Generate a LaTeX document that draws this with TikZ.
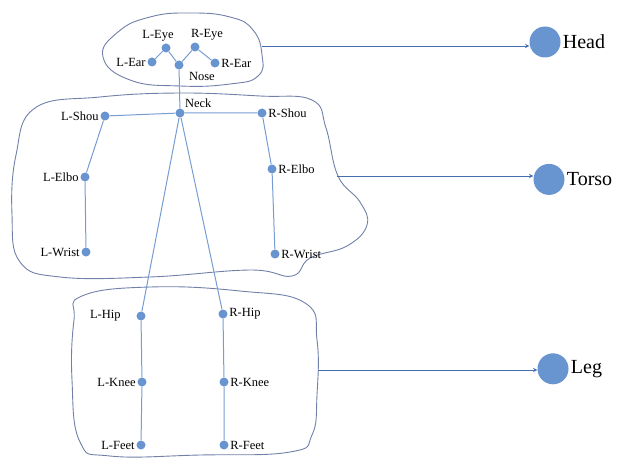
\documentclass[tikz,border=0pt]{standalone}
\usepackage{fontspec}
\setmainfont{Liberation Serif}
\usepackage{tikz}
\usepackage{xcolor}
\usetikzlibrary{arrows, positioning}
\definecolor{jointblue}{RGB}{104,148,208}
\definecolor{bonelue}{RGB}{120,156,210}
\definecolor{blobgrey}{RGB}{112,128,168}
\definecolor{arrowblue}{RGB}{70,110,175}
\tikzstyle{joint} = [circle, minimum size=9pt, inner sep=0pt, fill=jointblue, draw=none, label distance=0pt]
\tikzstyle{part} = [circle, minimum size=31pt, inner sep=0pt, fill=jointblue, draw=none, label distance=4pt]
\tikzstyle{partlabel} = [font=\fontsize{20}{20}\selectfont, inner sep=2pt]
\tikzstyle{bone} = [draw=bonelue, line width=1pt]
\tikzstyle{blob} = [draw=blobgrey, line width=0.9pt]
\tikzstyle{arrow} = [draw=arrowblue, line width=0.9pt, ->, >=stealth]

\begin{document}
\begin{tikzpicture}[x=1pt, y=-1pt, every label/.style={font=\fontsize{12.5}{12.5}\selectfont, inner sep=1.5pt}]
        \useasboundingbox (0,0) rectangle (617,457);

        % body part outlines
        \draw [blob] plot [smooth cycle, tension=0.8] coordinates {(103,57) (118,32) (150,17) (190,13) (230,17) (253,30) (262,55) (258,76) (230,84) (180,86) (130,80)};
        \draw [blob] plot [smooth cycle, tension=0.7] coordinates {(35,108) (100,97) (180,93) (260,96) (312,100) (326,128) (338,176) (360,202) (367,225) (347,246) (310,258) (292,276) (250,270) (150,277) (60,277) (20,262) (12,215) (16,155)};
        \draw [blob] plot [smooth cycle, tension=0.75] coordinates {(82,296) (150,287) (240,291) (305,303) (317,340) (317,395) (312,435) (290,452) (200,455) (110,456) (80,442) (72,380) (74,320)};

        % head
        \node (leye) [joint, label={[xshift=-8pt]above:L-Eye}] at (166,48) {};
        \node (reye) [joint, label={[xshift=12pt]above:R-Eye}] at (195,47) {};
        \node (lear) [joint, label=left:L-Ear] at (152,62) {};
        \node (nose) [joint, label={[xshift=5pt, yshift=-2pt]below right:Nose}] at (179,65) {};
        \node (rear) [joint, label=right:R-Ear] at (215,63) {};

        % torso
        \node (neck) [joint, label={above right:Neck}] at (180,113) {};
        \node (lshou) [joint, label=left:L-Shou] at (105,116) {};
        \node (rshou) [joint, label=right:R-Shou] at (262,113) {};
        \node (lelbo) [joint, label=left:L-Elbo] at (85,177) {};
        \node (relbo) [joint, label=right:R-Elbo] at (272,169) {};
        \node (lwrist) [joint, label=left:L-Wrist] at (86,252) {};
        \node (rwrist) [joint, label=right:R-Wrist] at (275,254) {};

        % legs
        \node (lhip) [joint, label={[xshift=-14pt]left:L-Hip}] at (141,316) {};
        \node (rhip) [joint, label=right:R-Hip] at (223,314) {};
        \node (lknee) [joint, label=left:L-Knee] at (142,382) {};
        \node (rknee) [joint, label=right:R-Knee] at (224,382) {};
        \node (lfeet) [joint, label=left:L-Feet] at (141,445) {};
        \node (rfeet) [joint, label=right:R-Feet] at (224,445) {};

        % groups
        \node (head) [part, label={[partlabel]right:Head}] at (545,42) {};
        \node (torso) [part, label={[partlabel]right:Torso}, below=106pt of head, xshift=4pt] {};
        \node (leg) [part, label={[partlabel]right:Leg}, below=158pt of torso, xshift=4pt] {};

        \coordinate (headout) at (262,46);
        \coordinate (torsoout) at (337,176);
        \coordinate (legout) at (318,370);

        \draw [bone] (lear) -- (leye) -- (nose) -- (reye) -- (rear);
        \draw [bone] (nose) -- (neck);
        \draw [bone] (lshou) -- (neck) -- (rshou);
        \draw [bone] (lshou) -- (lelbo) -- (lwrist);
        \draw [bone] (rshou) -- (relbo) -- (rwrist);
        \draw [bone] (neck) -- (lhip) -- (lknee) -- (lfeet);
        \draw [bone] (neck) -- (rhip) -- (rknee) -- (rfeet);

        \draw [arrow] (headout) -- (head.west |- headout);
        \draw [arrow] (torsoout) -- (torso.west |- torsoout);
        \draw [arrow] (legout) -- (leg.west |- legout);

    \end{tikzpicture}
\end{document}
